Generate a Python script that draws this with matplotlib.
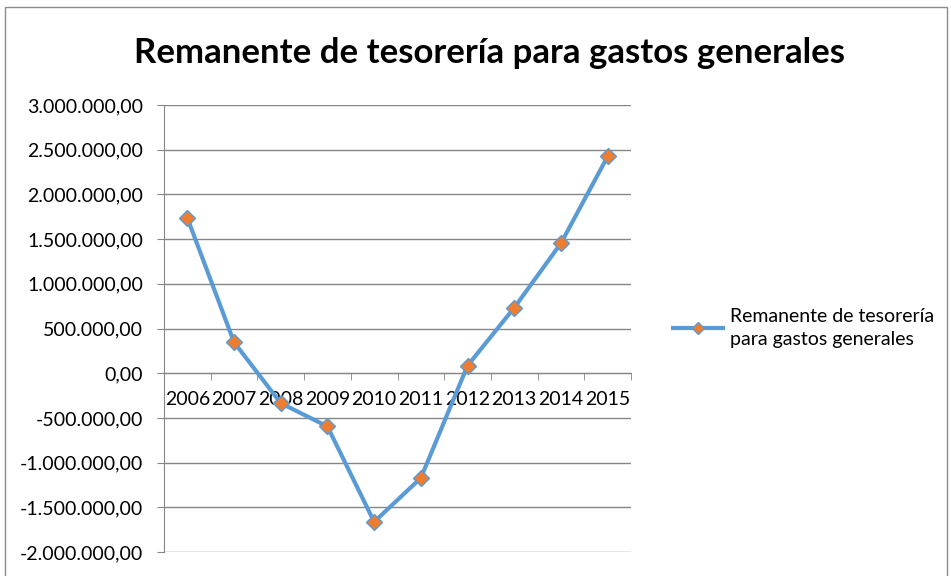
import matplotlib
matplotlib.use("Agg")
import matplotlib.pyplot as plt
from matplotlib.ticker import FuncFormatter, FixedLocator
from matplotlib.patches import Rectangle

years = ["2006", "2007", "2008", "2009", "2010", "2011", "2012", "2013", "2014", "2015"]
remanente = [1737000, 346000, -335000, -596000, -1663000, -1172000, 85000, 732000, 1454000, 2425000]
y_ticks = [3000000, 2500000, 2000000, 1500000, 1000000, 500000, 0,
           -500000, -1000000, -1500000, -2000000]
title = "Remanente de tesorería para gastos generales"
serie = "Remanente de tesorería\npara gastos generales"

plt.rcParams['font.family'] = ['Lato', 'DejaVu Sans']

fig = plt.figure(figsize=(9.51, 5.76), dpi=100)
fig.patches.append(Rectangle((5 / 951, -0.01), 942 / 951, 1 - 7 / 576 + 0.01,
                             transform=fig.transFigure, fill=False,
                             edgecolor='#8c8c8c', linewidth=1))

ax = fig.add_axes([164 / 951, 1 - 552 / 576, 467 / 951, 447 / 576])
x = list(range(len(years)))
ax.plot(x, remanente, color='#5B9BD5', linewidth=3, marker='D', markersize=8,
        markerfacecolor='#ED7D31', markeredgecolor='#5B9BD5', markeredgewidth=1,
        label=serie, zorder=3)

ax.set_xlim(-0.5, len(years) - 0.5)
ax.set_ylim(-2000000, 3000000)
ax.set_yticks(y_ticks)
ax.yaxis.set_major_formatter(FuncFormatter(
    lambda v, p: f"{v:,.2f}".replace(",", "X").replace(".", ",").replace("X", ".")))
ax.grid(axis='y', color='#868686', linewidth=1)
ax.set_axisbelow(True)

ax.set_xticks(x)
ax.set_xticklabels(years)
ax.xaxis.set_minor_locator(FixedLocator([i - 0.5 for i in range(len(years) + 1)]))
ax.tick_params(axis='x', which='major', length=0, labelsize=14, pad=13)
ax.tick_params(axis='x', which='minor', length=5, color='#868686', direction='out')
ax.tick_params(axis='y', length=5, color='#868686', labelsize=14, pad=10)

ax.spines['bottom'].set_position(('data', 0))
ax.spines['bottom'].set_color('#868686')
ax.spines['left'].set_color('#868686')
ax.spines['right'].set_color('none')
ax.spines['top'].set_color('none')

fig.text(489 / 951, 1 - 53 / 576, title, ha='center', va='center',
         fontsize=25, fontweight='bold')

leg = fig.legend(loc='center left', bbox_to_anchor=(655 / 951, 1 - 328 / 576),
                 frameon=False, fontsize=14, handlelength=2.6, handletextpad=0.35,
                 markerscale=0.8)
for t in leg.get_texts():
    t.set_linespacing(1.45)

fig.savefig("out.png", dpi=100)
